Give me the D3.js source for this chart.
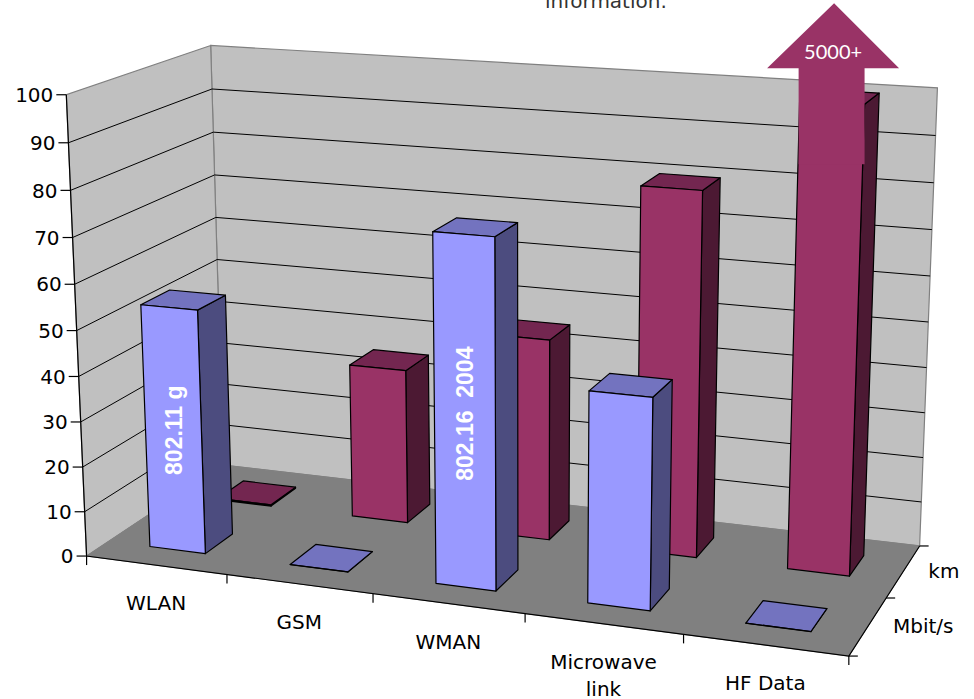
<!DOCTYPE html>
<html>
<head>
<meta charset="utf-8">
<script src="https://cdn.jsdelivr.net/npm/d3@7"></script>
<style>
  html, body { margin: 0; padding: 0; background: #ffffff; }
  svg { display: block; }
</style>
</head>
<body>
<svg id="chart" width="974" height="699"></svg>
<script>
// ---- data ----
const categories = ["WLAN", "GSM", "WMAN", "Microwave link", "HF Data"];
const seriesNames = ["Mbit/s", "km"];
const mbitValues = [54, 0.01, 75, 45, 0.01];
const kmValues = [0.3, 35, 45, 80, 5000];
const valueTicks = [0, 10, 20, 30, 40, 50, 60, 70, 80, 90, 100];
const barNotes = [
  { series: "Mbit/s", category: "WLAN", text: "802.11 g" },
  { series: "Mbit/s", category: "WMAN", text: "802.16  2004" }
];
const overflowNote = { series: "km", category: "HF Data", text: "5000+" };

const seriesValues = { "Mbit/s": mbitValues, "km": kmValues };
const seriesColors = {
  "Mbit/s": { front: "#9999ff", side: "#4c4c7f", top: "#7373bf" },
  "km":     { front: "#993366", side: "#4c1933", top: "#732650" }
};

// ---- 3D world scales: x = categories, y = value, z = series depth ----
const xCat = d3.scaleBand().domain(categories).range([0, 5]);
const xBar = d3.scaleBand().domain(categories).range([0, 5]).paddingInner(0.6).paddingOuter(0.3);
const zCat = d3.scaleBand().domain(seriesNames).range([0, 2]);
const zBar = d3.scaleBand().domain(seriesNames).range([0, 2]).paddingInner(0.6).paddingOuter(0.3);
const yVal = d3.scaleLinear().domain([0, 100]).range([0, 5]).clamp(true);

// ---- perspective camera, fitted to the frame of the plot box ----
const frameAnchors = [
  [[0, 0, 0], [86, 555]],
  [[5, 0, 0], [849, 655]],
  [[5, 0, 2], [920, 545]],
  [[0, 0, 2], [224, 466]],
  [[0, 5, 0], [67, 95]],
  [[0, 5, 2], [210, 45]],
  [[5, 5, 2], [938, 88]],
  [[1, 0, 0], [227, 574]],
  [[2, 0, 0], [373, 594]],
  [[3, 0, 0], [525, 614]],
  [[4, 0, 0], [683, 636]],
  [[5, 0, 1], [887, 598]],
  [[5, 1.5, 2], [923, 413]],
  [[5, 0.5, 2], [921.7, 502]]
];

function solveLinear(A, b) {
  const n = b.length;
  const M = A.map((r, i) => [...r, b[i]]);
  for (let c = 0; c < n; c++) {
    let piv = c;
    for (let r = c + 1; r < n; r++) if (Math.abs(M[r][c]) > Math.abs(M[piv][c])) piv = r;
    [M[c], M[piv]] = [M[piv], M[c]];
    for (let r = 0; r < n; r++) {
      if (r === c) continue;
      const f = M[r][c] / M[c][c];
      for (let k = c; k <= n; k++) M[r][k] -= f * M[c][k];
    }
  }
  return M.map((r, i) => r[n] / r[i]);
}

const NX = 487, NY = 350, NS = 487;
function fitCamera(pairs) {
  const rows = [], rhs = [];
  for (const [[X, Y, Z], [u, v]] of pairs) {
    const un = (u - NX) / NS, vn = (v - NY) / NS;
    rows.push([X, Y, Z, 1, 0, 0, 0, 0, -un * X, -un * Y, -un * Z]); rhs.push(un);
    rows.push([0, 0, 0, 0, X, Y, Z, 1, -vn * X, -vn * Y, -vn * Z]); rhs.push(vn);
  }
  const n = 11;
  const A = Array.from({ length: n }, () => new Array(n).fill(0));
  const b = new Array(n).fill(0);
  rows.forEach((r, k) => {
    for (let i = 0; i < n; i++) {
      b[i] += r[i] * rhs[k];
      for (let j = 0; j < n; j++) A[i][j] += r[i] * r[j];
    }
  });
  return solveLinear(A, b);
}
const P = fitCamera(frameAnchors);
function project(X, Y, Z) {
  const w = P[8] * X + P[9] * Y + P[10] * Z + 1;
  const un = (P[0] * X + P[1] * Y + P[2] * Z + P[3]) / w;
  const vn = (P[4] * X + P[5] * Y + P[6] * Z + P[7]) / w;
  return [un * NS + NX, vn * NS + NY];
}
const poly = pts => pts.map(p => project(...p).join(",")).join(" ");

// ---- drawing ----
const svg = d3.select("#chart");
const FONT = "'DejaVu Sans', sans-serif";

// slide text running above the chart
svg.append("text").attr("x", 545).attr("y", 8)
  .attr("font-family", FONT).attr("font-size", 20).attr("fill", "#333")
  .text("information.");

const X0 = xCat.range()[0], X1 = xCat.range()[1];
const Z0 = zCat.range()[0], Z1 = zCat.range()[1];
const YT = yVal(100);

// walls and floor
const walls = svg.append("g");
walls.append("polygon").attr("points", poly([[X0, 0, Z1], [X1, 0, Z1], [X1, YT, Z1], [X0, YT, Z1]]))
  .attr("fill", "#c0c0c0").attr("stroke", "#808080").attr("stroke-width", 1.2);
walls.append("polygon").attr("points", poly([[X0, 0, Z0], [X0, 0, Z1], [X0, YT, Z1], [X0, YT, Z0]]))
  .attr("fill", "#c0c0c0").attr("stroke", "#808080").attr("stroke-width", 1.2);
walls.append("polygon").attr("points", poly([[X0, 0, Z0], [X1, 0, Z0], [X1, 0, Z1], [X0, 0, Z1]]))
  .attr("fill", "#808080").attr("stroke", "#808080").attr("stroke-width", 1);

// gridlines on the side and back walls
const grid = svg.append("g").attr("stroke", "#000").attr("stroke-width", 1).attr("fill", "none");
valueTicks.filter(v => v > 0 && v < 100).forEach(v => {
  grid.append("polyline").attr("points", poly([[X0, yVal(v), Z0], [X0, yVal(v), Z1], [X1, yVal(v), Z1]]));
});

// axis lines
const axes = svg.append("g").attr("stroke", "#000").attr("stroke-width", 1.2).attr("fill", "none");
axes.append("polyline").attr("points", poly([[X0, YT, Z0], [X0, 0, Z0], [X1, 0, Z0], [X1, 0, Z1]]));

// value axis ticks and labels
valueTicks.forEach(v => {
  const [px, py] = project(X0, yVal(v), Z0);
  axes.append("line").attr("x1", px - 10).attr("y1", py).attr("x2", px).attr("y2", py);
  svg.append("text").attr("x", px - 13).attr("y", py).attr("dy", "0.36em")
    .attr("text-anchor", "end").attr("font-family", FONT).attr("font-size", 20).attr("fill", "#000")
    .text(v);
});

// category axis ticks
d3.range(categories.length + 1).forEach(i => {
  const [px, py] = project(X0 + i * xCat.step(), 0, Z0);
  axes.append("line").attr("x1", px).attr("y1", py).attr("x2", px).attr("y2", py + 9);
});
// depth axis ticks
d3.range(seriesNames.length + 1).forEach(i => {
  const [px, py] = project(X1, 0, Z0 + i * zCat.step());
  axes.append("line").attr("x1", px).attr("y1", py).attr("x2", px + 9).attr("y2", py);
});

// category labels, wrapped to fit the span of their slot
categories.forEach(c => {
  const [px, py] = project(xCat(c) + xCat.bandwidth() / 2, 0, Z0);
  const [ax] = project(xCat(c), 0, Z0), [bx] = project(xCat(c) + xCat.bandwidth(), 0, Z0);
  const maxW = (bx - ax) * 0.9;
  const t = svg.append("text").attr("text-anchor", "middle")
    .attr("font-family", FONT).attr("font-size", 20).attr("fill", "#000");
  const words = c.split(" ");
  const lines = [];
  let cur = [];
  words.forEach(w => {
    const trial = cur.concat(w).join(" ");
    t.text(trial);
    if (cur.length && t.node().getComputedTextLength() > maxW) { lines.push(cur.join(" ")); cur = [w]; }
    else cur.push(w);
  });
  lines.push(cur.join(" "));
  t.text(null);
  lines.forEach((ln, k) => {
    t.append("tspan").attr("x", px).attr("y", py + 45 + k * 27).text(ln);
  });
});

// series labels along the depth axis
seriesNames.forEach(s => {
  const [px, py] = project(X1, 0, zCat(s) + zCat.bandwidth() / 2);
  svg.append("text").attr("x", px + 25).attr("y", py).attr("dy", "0.36em")
    .attr("font-family", FONT).attr("font-size", 20).attr("fill", "#000").text(s);
});

// bars: back series first, left to right
const bars = svg.append("g").attr("stroke", "#000").attr("stroke-width", 1.2).attr("stroke-linejoin", "round");
function barBox(s, c) {
  const v = seriesValues[s][categories.indexOf(c)];
  const x0 = xBar(c), x1 = x0 + xBar.bandwidth();
  const z0 = zBar(s), z1 = z0 + zBar.bandwidth();
  const h = yVal(v);
  return { x0, x1, z0, z1, h, v };
}
seriesNames.slice().reverse().forEach(s => {
  const col = seriesColors[s];
  categories.forEach(c => {
    const { x0, x1, z0, z1, h } = barBox(s, c);
    const g = bars.append("g");
    g.append("polygon").attr("fill", col.side)
      .attr("points", poly([[x1, 0, z0], [x1, 0, z1], [x1, h, z1], [x1, h, z0]]));
    g.append("polygon").attr("fill", col.top)
      .attr("points", poly([[x0, h, z0], [x1, h, z0], [x1, h, z1], [x0, h, z1]]));
    g.append("polygon").attr("fill", col.front)
      .attr("points", poly([[x0, 0, z0], [x1, 0, z0], [x1, h, z0], [x0, h, z0]]));
  });
});

// notes written up the front face of bars
barNotes.forEach(n => {
  const { x0, x1, z0, h } = barBox(n.series, n.category);
  const [px, py] = project((x0 + x1) / 2, h / 2, z0);
  svg.append("text").attr("transform", `translate(${px},${py}) rotate(-90)`)
    .attr("text-anchor", "middle").attr("dy", "0.36em")
    .attr("xml:space", "preserve").style("white-space", "pre")
    .attr("font-family", "'Liberation Sans', Arial, sans-serif").attr("font-weight", "bold")
    .attr("font-size", 23).attr("fill", "#ffffff").text(n.text);
});

// arrow marking the value that runs past the axis maximum
{
  const { x0, x1, z0, h } = barBox(overflowNote.series, overflowNote.category);
  const [lx] = project(x0, h, z0);
  const [rx, ry] = project(x1, h, z0);
  const cx = (lx + rx) / 2;
  const top = ry;
  const arrow = [
    [lx - 1, top + 60], [lx - 1, top - 36], [cx - 65, top - 36], [cx + 2, top - 101],
    [cx + 67, top - 36], [rx, top - 36], [rx, top + 60]
  ];
  svg.append("polygon").attr("points", arrow.map(p => p.join(",")).join(" "))
    .attr("fill", seriesColors[overflowNote.series].front);
  svg.append("text").attr("x", cx + 1).attr("y", top - 52).attr("dy", "0.36em")
    .attr("text-anchor", "middle").attr("font-family", "Lato, sans-serif")
    .attr("font-size", 20).attr("fill", "#ffffff").text(overflowNote.text);
}
</script>
</body>
</html>
